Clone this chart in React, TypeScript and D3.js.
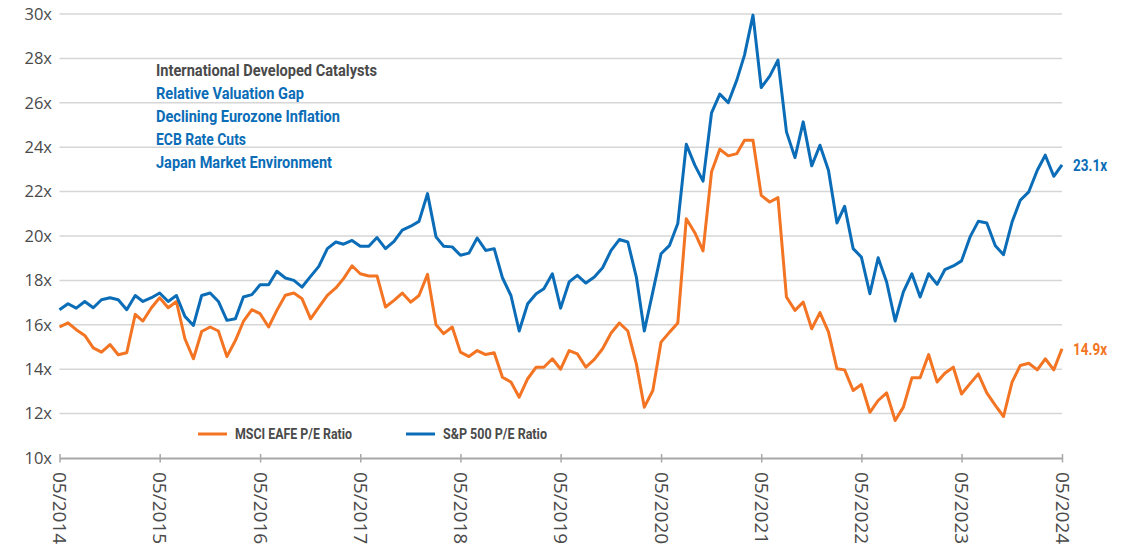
import React, { useRef, useEffect } from "react";
import * as d3 from "d3";

// monthly P/E ratios, 05/2014 .. 05/2024
const firstMonth = new Date(Date.UTC(2014, 4, 1));

const sp500 = [
	16.68, 16.95, 16.75, 17.05, 16.77, 17.13, 17.22, 17.13, 16.68, 17.32, 17.05, 17.22,
	17.43, 17.05, 17.32, 16.38, 15.97, 17.32, 17.43, 17.05, 16.2, 16.27, 17.25, 17.36,
	17.8, 17.8, 18.41, 18.11, 18.0, 17.7, 18.18, 18.63, 19.43, 19.73, 19.63, 19.8,
	19.54, 19.54, 19.93, 19.43, 19.76, 20.26, 20.44, 20.66, 21.91, 19.96, 19.54, 19.51,
	19.13, 19.23, 19.91, 19.35, 19.43, 18.12, 17.32, 15.72, 16.95, 17.4, 17.62, 18.3,
	16.75, 17.93, 18.23, 17.88, 18.15, 18.57, 19.35, 19.84, 19.73, 18.15, 15.72, 17.48,
	19.2, 19.58, 20.56, 24.13, 23.19, 22.47, 25.55, 26.39, 26.01, 27.02, 28.15, 29.95,
	26.69, 27.2, 27.92, 24.69, 23.53, 25.14, 23.16, 24.09, 22.96, 20.59, 21.34, 19.43,
	19.05, 17.4, 19.02, 17.93, 16.17, 17.48, 18.3, 17.25, 18.3, 17.82, 18.48, 18.65,
	18.88, 19.96, 20.66, 20.59, 19.56, 19.16, 20.63, 21.61, 21.99, 22.96, 23.64, 22.69,
	23.2
];

const eafe = [
	15.9, 16.09, 15.78, 15.52, 14.96, 14.77, 15.11, 14.65, 14.74, 16.47, 16.17, 16.77,
	17.22, 16.77, 17.05, 15.37, 14.47, 15.7, 15.9, 15.72, 14.57, 15.29, 16.15, 16.68,
	16.5, 15.9, 16.65, 17.33, 17.43, 17.17, 16.27, 16.8, 17.33, 17.66, 18.08, 18.66,
	18.3, 18.2, 18.2, 16.8, 17.1, 17.43, 17.02, 17.32, 18.27, 16.0, 15.6, 15.9,
	14.77, 14.57, 14.84, 14.66, 14.74, 13.64, 13.42, 12.74, 13.57, 14.09, 14.09, 14.47,
	14.0, 14.84, 14.69, 14.09, 14.44, 14.92, 15.63, 16.08, 15.72, 14.24, 12.29, 13.04,
	15.22, 15.67, 16.08, 20.78, 20.15, 19.33, 22.89, 23.91, 23.61, 23.71, 24.31, 24.31,
	21.83, 21.53, 21.73, 17.25, 16.65, 17.02, 15.82, 16.55, 15.68, 14.02, 13.97, 13.04,
	13.31, 12.06, 12.59, 12.93, 11.69, 12.29, 13.61, 13.61, 14.66, 13.42, 13.82, 14.09,
	12.88, 13.35, 13.79, 12.93, 12.37, 11.87, 13.42, 14.17, 14.27, 13.97, 14.47, 13.97,
	14.92
];

const yTicks = [10, 12, 14, 16, 18, 20, 22, 24, 26, 28, 30];

const catalystTitle = "International Developed Catalysts";
const catalysts = [
	"Relative Valuation Gap",
	"Declining Eurozone Inflation",
	"ECB Rate Cuts",
	"Japan Market Environment"
];
const catalystWidths = [221, 148, 184, 90, 176];

const seriesNames = ["MSCI EAFE P/E Ratio", "S&P 500 P/E Ratio"];
const endLabels = ["14.9x", "23.1x"];

const BLUE = "#0b6db7";
const ORANGE = "#f37423";
const TEXT = "#4a4a4a";

const Chart = () => {

	const chartRef = useRef<SVGSVGElement>(null);

	function drawChart() {

		const width = 1133;
		const height = 549;
		const margin = { top: 14, right: 71, bottom: 91, left: 59.5 };

		d3.select(chartRef.current).selectAll("*").remove();

		const svg = d3
			.select(chartRef.current)
			.attr("width", width)
			.attr("height", height);

		const months = sp500.map((_, i) => d3.utcMonth.offset(firstMonth, i));
		const yearTicks = months.filter((_, i) => i % 12 === 0);

		// Scales
		const x = d3
			.scaleTime()
			.domain([months[0], months[months.length - 1]])
			.range([margin.left, width - margin.right]);

		const y = d3
			.scaleLinear()
			.domain([10, 30])
			.range([height - margin.bottom, margin.top]);

		// grid
		svg
			.append("g")
			.selectAll("line")
			.data(yTicks.filter(t => t > 10))
			.enter()
			.append("line")
			.attr("x1", x.range()[0])
			.attr("x2", x.range()[1])
			.attr("y1", d => y(d))
			.attr("y2", d => y(d))
			.attr("stroke", "#d6d6d6")
			.attr("stroke-width", 1.5);

		// y labels
		svg
			.append("g")
			.selectAll("text")
			.data(yTicks)
			.enter()
			.append("text")
			.attr("x", 52)
			.attr("y", d => y(d))
			.attr("dy", "0.35em")
			.attr("text-anchor", "end")
			.attr("fill", TEXT)
			.attr("font-family", "'Open Sans', sans-serif")
			.attr("font-size", 16.5)
			.text(d => `${d}x`);

		// x axis
		const xAxis = d3
			.axisBottom(x)
			.tickValues(yearTicks)
			.tickFormat(d3.utcFormat("%m/%Y") as any)
			.tickSizeOuter(0);

		const xg = svg
			.append("g")
			.attr("transform", `translate(0,${y(10)})`)
			.call(xAxis);

		xg.select(".domain")
			.attr("stroke", "#a8a8a8")
			.attr("stroke-width", 2);

		xg.selectAll(".tick line")
			.attr("stroke", "#a8a8a8")
			.attr("stroke-width", 1.5)
			.attr("y1", -4)
			.attr("y2", 4.5);

		xg.selectAll(".tick text")
			.attr("transform", "rotate(90)")
			.attr("x", 14)
			.attr("y", 0)
			.attr("dy", "0.36em")
			.attr("text-anchor", "start")
			.attr("fill", TEXT)
			.attr("font-family", "'Open Sans', sans-serif")
			.attr("font-size", 19);

		// Lines
		const line = d3
			.line<number>()
			.x((_, i) => x(months[i]))
			.y(d => y(d));

		svg
			.append("path")
			.datum(eafe)
			.attr("d", line)
			.attr("fill", "none")
			.attr("stroke", ORANGE)
			.attr("stroke-width", 3)
			.attr("stroke-linejoin", "round");

		svg
			.append("path")
			.datum(sp500)
			.attr("d", line)
			.attr("fill", "none")
			.attr("stroke", BLUE)
			.attr("stroke-width", 3)
			.attr("stroke-linejoin", "round");

		const condensed = "'Liberation Sans Narrow', 'Roboto', sans-serif";

		// End labels
		const lastX = x(months[months.length - 1]);
		[eafe, sp500].forEach((s, k) => {
			svg
				.append("text")
				.attr("x", lastX + 11)
				.attr("y", y(s[s.length - 1]))
				.attr("dy", "0.36em")
				.attr("fill", k === 0 ? ORANGE : BLUE)
				.attr("font-family", condensed)
				.attr("font-weight", 700)
				.attr("font-size", 16.5)
				.attr("textLength", 34)
				.attr("lengthAdjust", "spacingAndGlyphs")
				.text(endLabels[k]);
		});

		// Catalysts text block
		const lines = [catalystTitle, ...catalysts];
		svg
			.append("g")
			.selectAll("text")
			.data(lines)
			.enter()
			.append("text")
			.attr("x", 156)
			.attr("y", (_, i) => 75.5 + i * 23)
			.attr("fill", (_, i) => (i === 0 ? TEXT : BLUE))
			.attr("font-family", condensed)
			.attr("font-weight", 700)
			.attr("font-size", 16.5)
			.attr("textLength", (_, i) => catalystWidths[i])
			.attr("lengthAdjust", "spacingAndGlyphs")
			.text(d => d);

		// Legend
		const legend = [
			{ name: seriesNames[0], color: ORANGE, x: 198, w: 117 },
			{ name: seriesNames[1], color: BLUE, x: 406, w: 104 }
		];
		const lg = svg.append("g").attr("transform", "translate(0,434)");
		legend.forEach(l => {
			lg.append("line")
				.attr("x1", l.x)
				.attr("x2", l.x + 29)
				.attr("stroke", l.color)
				.attr("stroke-width", 3);
			lg.append("text")
				.attr("x", l.x + 37)
				.attr("dy", "0.36em")
				.attr("fill", TEXT)
				.attr("font-family", condensed)
				.attr("font-weight", 700)
				.attr("font-size", 14.5)
				.attr("textLength", l.w)
				.attr("lengthAdjust", "spacingAndGlyphs")
				.text(l.name);
		});
	}

	useEffect(() => {
		drawChart();
	}, []);

	return (
		<div style={{ position: "absolute", left: 0, top: 0, background: "#fff" }}>
			<svg ref={chartRef} style={{ display: "block" }}></svg>
		</div>
	);
};

export default function App() {
	return <Chart />;
}
